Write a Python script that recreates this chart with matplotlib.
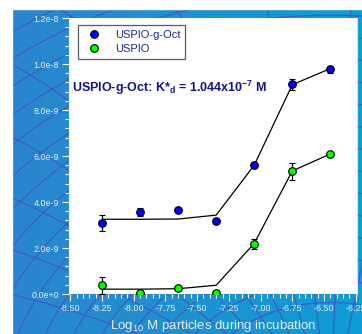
import numpy as np
import matplotlib
matplotlib.use('Agg')
import matplotlib.pyplot as plt
from matplotlib.colors import LinearSegmentedColormap
from matplotlib.ticker import MultipleLocator

plt.rcParams['font.family'] = ['Liberation Sans', 'DejaVu Sans']
plt.rcParams['mathtext.fontset'] = 'custom'
plt.rcParams['mathtext.rm'] = 'Liberation Sans'
plt.rcParams['mathtext.bf'] = 'Liberation Sans:bold'

# data (log10 M, signal)
conc = [-8.25, -7.95, -7.65, -7.35, -7.05, -6.75, -6.45]
oct_y = [3.09e-9, 3.57e-9, 3.64e-9, 3.17e-9, 5.60e-9, 9.11e-9, 9.77e-9]
oct_err = [0.33e-9, 0.17e-9, 0.08e-9, 0.05e-9, 0.10e-9, 0.23e-9, 0.15e-9]
oct_fit = [3.25e-9, 3.25e-9, 3.26e-9, 3.43e-9, 5.60e-9, 9.10e-9, 9.80e-9]
uspio_y = [0.37e-9, 0.04e-9, 0.25e-9, 0.04e-9, 2.17e-9, 5.33e-9, 6.10e-9]
uspio_err = [0.37e-9, 0.03e-9, 0.04e-9, 0.03e-9, 0.20e-9, 0.38e-9, 0.08e-9]
uspio_fit = [0.21e-9, 0.21e-9, 0.23e-9, 0.38e-9, 2.20e-9, 5.35e-9, 6.09e-9]

xticks = [-8.5, -8.25, -8.0, -7.75, -7.5, -7.25, -7.0, -6.75, -6.5, -6.25]
xticklabels = ['-8.50', '-8.25', '-8.00', '-7.75', '-7.50', '-7.25', '-7.00',
               '-6.75', '-6.50', '-6.25']
yticks = [0, 2e-9, 4e-9, 6e-9, 8e-9, 1e-8, 1.2e-8]
yticklabels = ['0.0e+0', '2.0e-9', '4.0e-9', '6.0e-9', '8.0e-9', '1.0e-8', '1.2e-8']

W, H = 362, 334
fig = plt.figure(figsize=(W / 100, H / 100), dpi=100)

# blue slide background with mesh
bg = fig.add_axes([0, 0, 1, 1])
bg.set_xlim(0, W)
bg.set_ylim(H, 0)
bg.axis('off')
cmap = LinearSegmentedColormap.from_list('bg', ['#2a86cc', '#1e92d0', '#0f9dd5'])
grad = np.linspace(0, 1, 256).reshape(1, -1)
bg.imshow(grad, cmap=cmap, extent=[12, W, H, 9], aspect='auto', zorder=0)
cx, cy = 330, 430
t = np.linspace(0, 2 * np.pi, 600)
for r in range(150, 700, 26):
    bg.plot(cx + r * np.cos(t), cy + r * 0.85 * np.sin(t), color='#3f58c4',
            lw=0.9, alpha=0.9, zorder=1)
rr = np.linspace(0, 800, 50)
for a in np.linspace(np.pi * 0.95, np.pi * 1.55, 16):
    bg.plot(cx + rr * np.cos(a), cy + rr * np.sin(a) * 0.9 + 0.0004 * rr ** 2,
            color='#3f58c4', lw=0.9, alpha=0.9, zorder=1)
bg.add_patch(plt.Rectangle((0, 0), W, 9, color='white', zorder=2))
bg.add_patch(plt.Rectangle((0, 0), 12, H, color='white', zorder=2))

ax = fig.add_axes([69 / W, 40 / H, 288 / W, 276 / H])
ax.set_facecolor('white')
ax.plot(conc, oct_fit, color='black', lw=0.9, zorder=2)
ax.plot(conc, uspio_fit, color='black', lw=0.9, zorder=2)
ax.errorbar(conc, oct_y, yerr=oct_err, fmt='o', color='#0000ff', mec='black',
            mew=0.8, ms=5.5, ecolor='black', elinewidth=0.9, capsize=2.5,
            label='USPIO-g-Oct', zorder=3)
ax.errorbar(conc, uspio_y, yerr=uspio_err, fmt='o', color='#00ff00', mec='black',
            mew=0.8, ms=5.5, ecolor='black', elinewidth=0.9, capsize=2.5,
            label='USPIO', zorder=3)

ax.set_xlim(-8.51, -6.24)
ax.set_ylim(0, 1.2e-8)
ax.set_xticks(xticks)
ax.set_xticklabels(xticklabels)
ax.set_yticks(yticks)
ax.set_yticklabels(yticklabels)
ax.xaxis.set_minor_locator(MultipleLocator(0.05))
ax.yaxis.set_minor_locator(MultipleLocator(0.4e-9))
ax.tick_params(which='both', colors='white', labelcolor='#e6eef8', labelsize=6.4,
               direction='out', pad=2)
ax.tick_params(which='major', length=5, width=0.8)
ax.tick_params(which='minor', length=3, width=0.8)
for s in ['top', 'left', 'bottom']:
    ax.spines[s].set_visible(False)
ax.spines['right'].set_color('#c6e8f6')
ax.set_xlabel('Log$_{10}$ M particles during incubation', color='#e6eef8',
              fontsize=9.5, labelpad=4)

handles, labels = ax.get_legend_handles_labels()
handles = [h[0] for h in handles]
leg = ax.legend(handles, labels, loc='upper left', bbox_to_anchor=(0.03, 0.975),
                fontsize=8, frameon=True, fancybox=False, edgecolor='#333333',
                borderpad=0.45, handletextpad=0.9, labelspacing=0.35,
                handlelength=2.0, borderaxespad=0)
leg.get_frame().set_linewidth(0.9)
for txt in leg.get_texts():
    txt.set_color('#1c2a8c')

ax.text(0.012, 0.748, r'USPIO-g-Oct: K*$_{\mathbf{d}}$ = 1.044x10$^{\mathbf{-7}}$ M',
        transform=ax.transAxes, fontsize=9, fontweight='bold', color='#14148c',
        va='center', ha='left')

fig.savefig('out.png', dpi=100)
